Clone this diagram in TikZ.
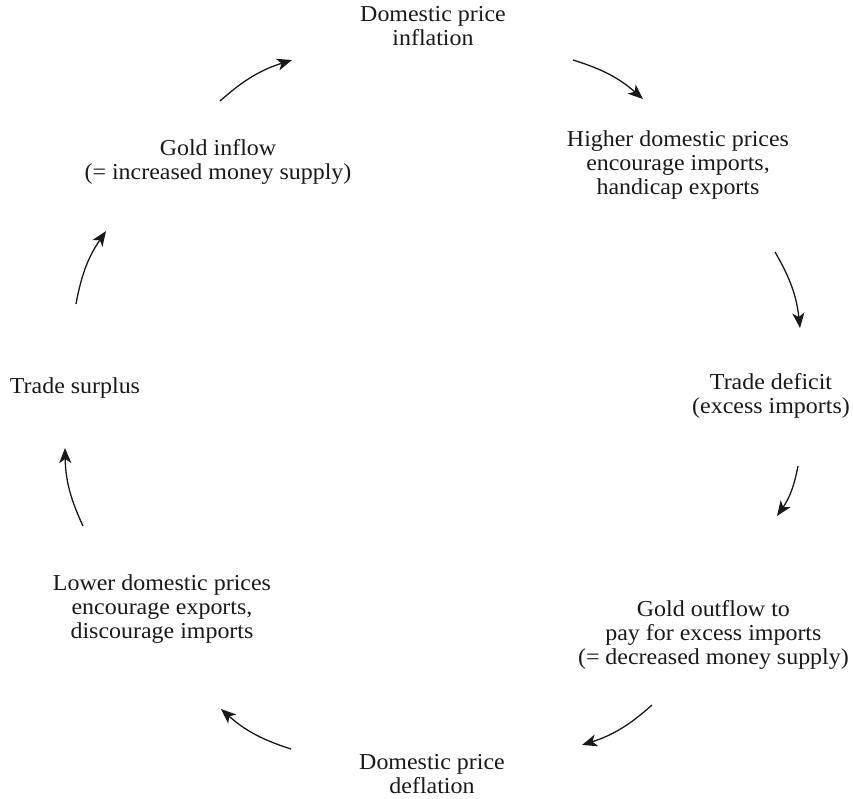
\documentclass[tikz,border=0pt]{standalone}
\usepackage{fontspec}
\setmainfont[FakeStretch=1.05]{Liberation Serif}
\usetikzlibrary{arrows.meta}
\begin{document}
\begin{tikzpicture}[x=1pt,y=-1pt,
  lbl/.style={align=center,inner sep=0pt,font=\fontsize{22.8}{24.3}\selectfont,text=black!90},
  cyc/.style={line width=1.3pt,black!90,-{Stealth[length=15pt,width=12pt,inset=4pt]},bend left=12}]
\useasboundingbox (0,0) rectangle (853,798);
\node[lbl] (infl) at (433,26) {Domestic price\\inflation};
\node[lbl] (high) at (678,165) {Higher domestic prices\\encourage imports,\\handicap exports};
\node[lbl,anchor=east] (def) at (850,396) {Trade deficit\\(excess imports)};
\node[lbl,anchor=east] (out) at (849,635) {Gold outflow to\\pay for excess imports\\(= decreased money supply)};
\node[lbl] (defl) at (432,774) {Domestic price\\deflation};
\node[lbl] (low) at (162,609) {Lower domestic prices\\encourage exports,\\discourage imports};
\node[lbl] (surp) at (75,388) {Trade surplus};
\node[lbl] (in) at (218,162) {Gold inflow\\(= increased money supply)};
\coordinate (a1s) at (220,101); \coordinate (a1e) at (292,60);
\coordinate (a2s) at (573,60);  \coordinate (a2e) at (643,99);
\coordinate (a3s) at (775,252); \coordinate (a3e) at (800,328);
\coordinate (a4s) at (798,466); \coordinate (a4e) at (777,516);
\coordinate (a5s) at (652,705); \coordinate (a5e) at (582,745);
\coordinate (a6s) at (291,749); \coordinate (a6e) at (221,709);
\coordinate (a7s) at (83,526);  \coordinate (a7e) at (65,448);
\coordinate (a8s) at (76,304);  \coordinate (a8e) at (106,231);
\draw[cyc] (a1s) to (a1e);
\draw[cyc] (a2s) to (a2e);
\draw[cyc] (a3s) to (a3e);
\draw[cyc] (a4s) to (a4e);
\draw[cyc] (a5s) to (a5e);
\draw[cyc] (a6s) to (a6e);
\draw[cyc] (a7s) to (a7e);
\draw[cyc] (a8s) to (a8e);
\end{tikzpicture}
\end{document}
